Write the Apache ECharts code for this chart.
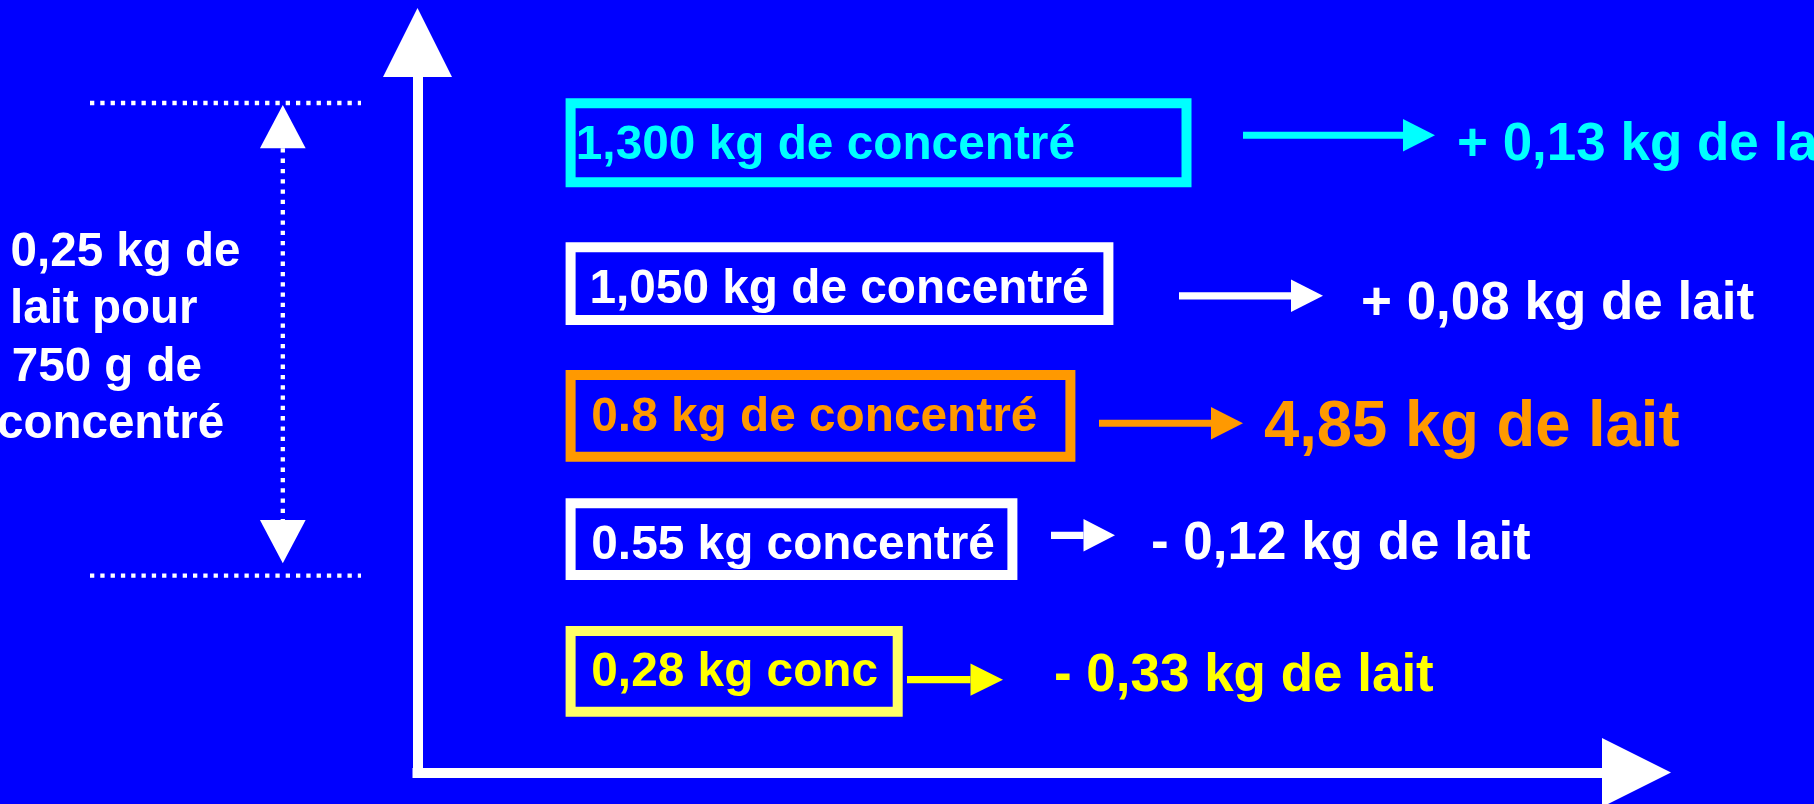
<!DOCTYPE html>
<html>
<head>
<meta charset="utf-8">
<script src="https://cdn.jsdelivr.net/npm/echarts@6/dist/echarts.min.js"></script>
<style>
html,body{margin:0;padding:0;background:#0000ff;}
#chart{width:1814px;height:804px;}
</style>
</head>
<body>
<div id="chart"></div>
<script>
// ---------- DATA ----------
const rowKeys = ['r1', 'r2', 'r3', 'r4', 'r5'];
const concentrateLabels = ['1,300 kg de concentré', '1,050 kg de concentré', '0.8 kg de concentré', '0.55 kg concentré', '0,28 kg conc'];
const milkLabels = ['+ 0,13 kg de lait', '+ 0,08 kg de lait', '4,85 kg de lait', '- 0,12 kg de lait', '- 0,33 kg de lait'];
const noteLines = ['0,25 kg de', 'lait pour', '750 g de', 'concentré'];
const noteSpan = [0, 3];

// ---------- STYLE / LAYOUT ----------
const textColors = ['#00FFFF', '#FFFFFF', '#FF9900', '#FFFFFF', '#FFFF00'];
const boxColors = ['#00FFFF', '#FFFFFF', '#FF9900', '#FFFFFF', '#FFFF66'];
const FONT = '"Liberation Sans", Arial, Helvetica, sans-serif';
const BASE_K = 0.26;
const LAYOUT = [
  {boxL: 570.6, boxR: 1186.5, boxTop: -44.8, boxBot: 34.2, textX: 575.8, textDy: 10.2, a0: 1243, a1: 1403, a2: 1435, aDy: -12.8, resX: 1457, resDy: 10.9, resSize: 53.5},
  {boxL: 570.6, boxR: 1108.4, boxTop: -32.0, boxBot: 40.7, textX: 589.4, textDy: 23.4, a0: 1179, a1: 1291, a2: 1323, aDy: 16.5, resX: 1361, resDy: 38.4, resSize: 53.5},
  {boxL: 570.6, boxR: 1070.4, boxTop: -35.6, boxBot: 46.1, textX: 591.3, textDy: 19.4, a0: 1099, a1: 1211, a2: 1243, aDy: 12.7, resX: 1264, resDy: 34.4, resSize: 64},
  {boxL: 570.6, boxR: 1012.4, boxTop: -38.5, boxBot: 33.2, textX: 591.3, textDy: 16.5, a0: 1051, a1: 1083.5, a2: 1115, aDy: -6.5, resX: 1151, resDy: 16.5, resSize: 53.5},
  {boxL: 570.6, boxR: 897.7, boxTop: -42.1, boxBot: 38.6, textX: 591.3, textDy: 11.9, a0: 907, a1: 970.5, a2: 1003, aDy: 6.6, resX: 1054, resDy: 16.9, resSize: 53.5}
];
const BOX_TEXT = {size: 49, scaleX: 0.975};
const NOTE = {
  topDy: -45.06, botDy: 33.9, lineX1: 90, lineX2: 361, vx: 282.8,
  headW: 45.7, headH: 43.3,
  textX: [10.6, 10.1, 11.8, -3], textBase: [162.7, 219.7, 277, 334.5], textSize: 48.5, scaleX: 0.98
};

function txt(s, x, baseline, size, color, sx) {
  return {
    type: 'text',
    x: x,
    y: baseline - BASE_K * size,
    scaleX: sx || 1,
    style: {
      text: s, fill: color,
      font: 'bold ' + size + 'px ' + FONT,
      textAlign: 'left', textVerticalAlign: 'middle',
      align: 'left', verticalAlign: 'middle'
    }
  };
}

function renderRow(params, api) {
  const i = api.value(1);
  const L = LAYOUT[i];
  const cy = api.coord([0, i])[1];
  const px = v => api.coord([v, i])[0];
  const col = textColors[i];
  const ay = cy + L.aDy;
  return {
    type: 'group',
    children: [
      {type: 'rect', shape: {x: px(L.boxL), y: cy + L.boxTop, width: px(L.boxR) - px(L.boxL), height: L.boxBot - L.boxTop},
       style: {fill: 'none', stroke: boxColors[i], lineWidth: 10}},
      txt(concentrateLabels[i], px(L.textX), cy + L.textDy, BOX_TEXT.size, col, BOX_TEXT.scaleX),
      {type: 'rect', shape: {x: px(L.a0), y: ay - 3.6, width: px(L.a1) - px(L.a0), height: 7.2}, style: {fill: col}},
      {type: 'polygon', shape: {points: [[px(L.a1), ay - 16.2], [px(L.a2), ay], [px(L.a1), ay + 16.2]]}, style: {fill: col}},
      txt(milkLabels[i], px(L.resX), cy + L.resDy, L.resSize, col, 0.99)
    ]
  };
}

function renderNote(params, api) {
  const top = api.coord([0, noteSpan[0]])[1] + NOTE.topDy;
  const bot = api.coord([0, noteSpan[1]])[1] + NOTE.botDy;
  const px = v => api.coord([v, 0])[0];
  const vx = px(NOTE.vx);
  const dot = {stroke: '#FFFFFF', lineWidth: 4.3, lineDash: [4.3, 6]};
  const hw = NOTE.headW / 2;
  const children = [
    {type: 'line', shape: {x1: px(NOTE.lineX1), y1: top, x2: px(NOTE.lineX2), y2: top}, style: dot},
    {type: 'line', shape: {x1: px(NOTE.lineX1), y1: bot, x2: px(NOTE.lineX2), y2: bot}, style: dot},
    {type: 'line', shape: {x1: vx, y1: top + 2 + NOTE.headH, x2: vx, y2: bot - 12.4 - NOTE.headH}, style: dot},
    {type: 'polygon', shape: {points: [[vx, top + 2], [vx + hw, top + 2 + NOTE.headH], [vx - hw, top + 2 + NOTE.headH]]}, style: {fill: '#FFFFFF'}},
    {type: 'polygon', shape: {points: [[vx, bot - 12.4], [vx + hw, bot - 12.4 - NOTE.headH], [vx - hw, bot - 12.4 - NOTE.headH]]}, style: {fill: '#FFFFFF'}}
  ];
  noteLines.forEach((s, k) => {
    children.push(txt(s, px(NOTE.textX[k]), top + NOTE.textBase[k], NOTE.textSize, '#FFFFFF', NOTE.scaleX));
  });
  return {type: 'group', children};
}

const chart = echarts.init(document.getElementById('chart'), null, {renderer: 'canvas'});
const hiddenAxisParts = {axisTick: {show: false}, axisLabel: {show: false}, splitLine: {show: false}};

chart.setOption({
  backgroundColor: '#0000FF',
  animation: false,
  grid: [
    {left: 417.5, right: 177.5, top: 42.5, bottom: 31.5, containLabel: false},
    {left: 0, right: 0, top: 82.44, height: 656.25, containLabel: false}
  ],
  xAxis: [
    Object.assign({type: 'value', gridIndex: 0, min: 0, max: 1,
      axisLine: {show: true, onZero: false, symbol: ['none', 'triangle'], symbolSize: [69, 69],
        lineStyle: {color: '#FFFFFF', width: 10, cap: 'square'}}}, hiddenAxisParts),
    Object.assign({type: 'value', gridIndex: 1, min: 0, max: 1814, show: false}, hiddenAxisParts)
  ],
  yAxis: [
    Object.assign({type: 'value', gridIndex: 0, min: 0, max: 1,
      axisLine: {show: true, onZero: false, symbol: ['none', 'triangle'], symbolSize: [69, 69],
        lineStyle: {color: '#FFFFFF', width: 10, cap: 'square'}}}, hiddenAxisParts),
    Object.assign({type: 'category', gridIndex: 1, inverse: true, data: rowKeys, show: false, boundaryGap: true}, hiddenAxisParts)
  ],
  series: [
    {
      type: 'custom', name: 'rows', xAxisIndex: 1, yAxisIndex: 1,
      data: concentrateLabels.map((s, i) => [0, i]),
      encode: {x: 0, y: 1},
      renderItem: renderRow, silent: true
    },
    {
      type: 'custom', name: 'note', xAxisIndex: 1, yAxisIndex: 1,
      data: [[0, noteSpan[0]]],
      encode: {x: 0, y: 1},
      renderItem: renderNote, silent: true
    }
  ]
});
</script>
</body>
</html>
